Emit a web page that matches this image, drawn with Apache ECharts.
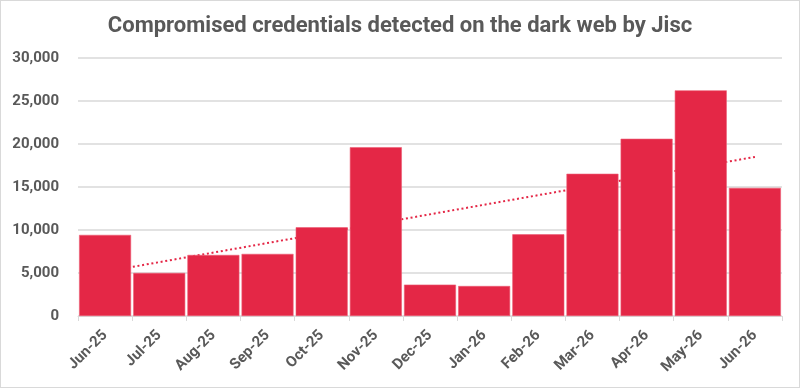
<!DOCTYPE html>
<html><head><meta charset="utf-8">
<style>html,body{margin:0;padding:0;background:#fff}
#wrap{position:absolute;left:0;top:0;width:798px;height:386px;border:1px solid #d9d9d9;}
#c{width:798px;height:386px}</style>
<script src="https://cdn.jsdelivr.net/npm/echarts@6/dist/echarts.min.js"></script>
</head><body><div id="wrap"><div id="c"></div></div>
<script>
const categories = ['Jun-25','Jul-25','Aug-25','Sep-25','Oct-25','Nov-25','Dec-25','Jan-26','Feb-26','Mar-26','Apr-26','May-26','Jun-26'];
const credentials = [9430,5010,7100,7220,10320,19630,3650,3490,9500,16540,20610,26240,14900];
const trendStart = 5150;
const trendEnd = 18500;
const yTicks = [0,5000,10000,15000,20000,25000,30000];

const chart = echarts.init(document.getElementById('c'));
const txt = '#595959';
chart.setOption({
  animation:false,
  title:{text:'Compromised credentials detected on the dark web by Jisc',left:'center',top:9,
    textStyle:{fontFamily:'Roboto',fontWeight:'bold',fontSize:22,color:txt}},
  grid:{left:77,right:17,top:57,bottom:71},
  xAxis:{type:'category',data:categories,
    axisLine:{lineStyle:{color:'#d9d9d9',width:1}},
    axisTick:{show:true,length:5,lineStyle:{color:'#d9d9d9'}},
    axisLabel:{rotate:45,margin:17,color:txt,fontFamily:'Roboto',fontWeight:'bold',fontSize:15,interval:0}},
  yAxis:{type:'value',min:yTicks[0],max:yTicks[yTicks.length-1],interval:5000,
    axisLine:{show:false},axisTick:{show:false},
    splitLine:{lineStyle:{color:'#d9d9d9',width:1.5}},
    axisLabel:{margin:19,color:txt,fontFamily:'Roboto',fontWeight:'bold',fontSize:15,
      formatter:v=>v.toLocaleString('en-US')}},
  series:[
    {type:'line',z:1,data:[[0,trendStart],[categories.length-1,trendEnd]],symbol:'none',
      lineStyle:{color:'#e42746',width:2,type:[2,2.7]}},
    {type:'bar',z:2,data:credentials,barCategoryGap:'4%',
      itemStyle:{color:'#e42746',borderColor:'#ec5c74',borderWidth:0.6}}
  ]
});
</script></body></html>
